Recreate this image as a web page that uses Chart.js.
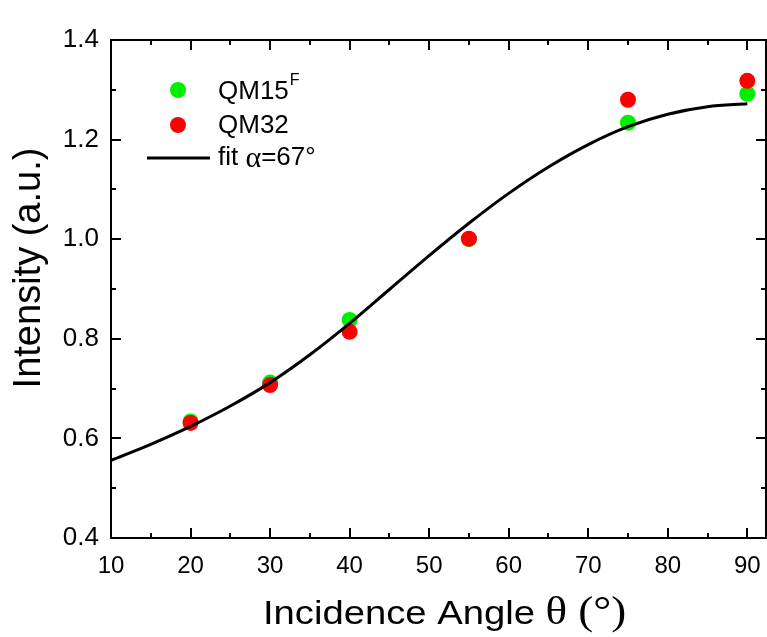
<!DOCTYPE html>
<html>
<head>
<meta charset="utf-8">
<script src="https://cdn.jsdelivr.net/npm/chart.js@4.4.0/dist/chart.umd.min.js"></script>
<style>
  html, body { margin: 0; padding: 0; background: #fff; }
  #wrap { width: 767px; height: 637px; }
</style>
</head>
<body>
<div id="wrap"><canvas id="myChart" width="767" height="637"></canvas></div>
<script>
// measured points (angle in degrees, intensity a.u.)
var angles = [20, 30, 40, 55, 75, 90];
var qm15F = [0.634, 0.712, 0.838, 1.000, 1.234, 1.292];
var qm32 = [0.631, 0.707, 0.814, 1.001, 1.280, 1.318];

// fit curve, every 5 degrees
var fitAngles = [10, 15, 20, 25, 30, 35, 40, 45, 50, 55, 60, 65, 70, 75, 80, 85, 90];
var fitValues = [0.556, 0.588, 0.624, 0.665, 0.712, 0.768, 0.831, 0.899, 0.967, 1.032, 1.092, 1.145, 1.190, 1.226, 1.251, 1.266, 1.272];

var xTicks = [10, 20, 30, 40, 50, 60, 70, 80, 90];
var yTicks = [0.4, 0.6, 0.8, 1.0, 1.2, 1.4];

function pts(xs, ys) {
    return xs.map(function (x, i) { return { x: x, y: ys[i] }; });
}

var FONT = "'Liberation Sans', Arial, sans-serif";
var SERIF = "'Liberation Serif', 'Times New Roman', serif";

// frame + inward ticks on all four sides
var framePlugin = {
    id: 'frame',
    afterDraw: function (chart) {
        var ctx = chart.ctx, a = chart.chartArea;
        var xs = chart.scales.x, ys = chart.scales.y;
        ctx.save();
        ctx.strokeStyle = '#000';
        ctx.lineWidth = 2;
        ctx.strokeRect(a.left, a.top, a.right - a.left, a.bottom - a.top);
        ctx.beginPath();
        for (var v = 10; v <= 90; v += 5) {
            var px = Math.round(xs.getPixelForValue(v));
            var len = (v % 10 === 0) ? 10 : 5;
            ctx.moveTo(px, a.bottom); ctx.lineTo(px, a.bottom - len);
            ctx.moveTo(px, a.top); ctx.lineTo(px, a.top + len);
        }
        for (var k = 4; k <= 14; k++) {
            var py = Math.round(ys.getPixelForValue(k / 10));
            var l2 = (k % 2 === 0) ? 10 : 5;
            ctx.moveTo(a.left, py); ctx.lineTo(a.left + l2, py);
            ctx.moveTo(a.right, py); ctx.lineTo(a.right - l2, py);
        }
        ctx.stroke();
        ctx.restore();
    }
};

// axis titles (mixed sans / serif, like the original)
var titlePlugin = {
    id: 'axisTitles',
    afterDraw: function (chart) {
        var ctx = chart.ctx, a = chart.chartArea;
        ctx.save();
        ctx.fillStyle = '#000';
        ctx.textBaseline = 'alphabetic';

        // x title
        ctx.save();
        ctx.translate(a.left + 152, a.bottom + 86);
        ctx.scale(1.124, 1);
        ctx.font = '34px ' + FONT;
        var part1 = 'Incidence Angle ';
        ctx.fillText(part1, 0, 0);
        var w = ctx.measureText(part1).width;
        ctx.font = '40px ' + SERIF;
        ctx.fillText('\u03b8 (\u00b0)', w, 0);
        ctx.restore();

        // y title
        ctx.save();
        ctx.translate(40, a.top + 228);
        ctx.rotate(-Math.PI / 2);
        ctx.font = '38px ' + FONT;
        ctx.textAlign = 'center';
        ctx.fillText('Intensity (a.u.)', 0, 0);
        ctx.restore();

        ctx.restore();
    }
};

// legend with superscript and line sample
var legendPlugin = {
    id: 'customLegend',
    afterDraw: function (chart) {
        var ctx = chart.ctx, a = chart.chartArea;
        var x0 = a.left + 67, tx = a.left + 107;
        var rows = [a.top + 50, a.top + 85, a.top + 118];
        ctx.save();
        ctx.font = '26px ' + FONT;
        ctx.textBaseline = 'middle';
        ctx.fillStyle = '#000';

        ctx.beginPath();
        ctx.fillStyle = '#00ee00';
        ctx.arc(x0, rows[0], 8, 0, Math.PI * 2);
        ctx.fill();
        ctx.fillStyle = '#000';
        ctx.fillText('QM15', tx, rows[0] + 2);
        var w = ctx.measureText('QM15').width;
        ctx.font = '16px ' + FONT;
        ctx.fillText('F', tx + w + 1, rows[0] - 9);

        ctx.beginPath();
        ctx.fillStyle = '#ff0000';
        ctx.arc(x0, rows[1], 8, 0, Math.PI * 2);
        ctx.fill();
        ctx.fillStyle = '#000';
        ctx.font = '26px ' + FONT;
        ctx.fillText('QM32', tx, rows[1] + 1);

        ctx.beginPath();
        ctx.strokeStyle = '#000';
        ctx.lineWidth = 3;
        ctx.moveTo(a.left + 36, rows[2]);
        ctx.lineTo(a.left + 99, rows[2]);
        ctx.stroke();
        ctx.fillText('fit ', tx, rows[2]);
        var w2 = ctx.measureText('fit ').width;
        ctx.font = '30px ' + SERIF;
        ctx.fillText('\u03b1', tx + w2, rows[2] + 1);
        var w3 = ctx.measureText('\u03b1').width;
        ctx.font = '26px ' + FONT;
        ctx.fillText('=67\u00b0', tx + w2 + w3, rows[2]);
        ctx.restore();
    }
};

var ctx = document.getElementById('myChart').getContext('2d');

var myChart = new Chart(ctx, {
    type: 'scatter',
    data: {
        datasets: [{
            label: 'fit \u03b1=67\u00b0',
            type: 'line',
            data: pts(fitAngles, fitValues),
            borderColor: '#000',
            borderWidth: 3,
            pointRadius: 0,
            fill: false,
            cubicInterpolationMode: 'monotone',
            order: 0
        }, {
            label: 'QM32',
            data: pts(angles, qm32),
            backgroundColor: '#ff0000',
            borderWidth: 0,
            pointRadius: 8,
            order: 1
        }, {
            label: 'QM15F',
            data: pts(angles, qm15F),
            backgroundColor: '#00ee00',
            borderWidth: 0,
            pointRadius: 8,
            order: 2
        }]
    },
    plugins: [framePlugin, titlePlugin, legendPlugin],
    options: {
        responsive: false,
        animation: false,
        layout: { autoPadding: false, padding: { left: 0, right: 1, top: 40, bottom: 0 } },
        plugins: {
            legend: { display: false },
            tooltip: { enabled: false }
        },
        scales: {
            x: {
                type: 'linear',
                min: 10,
                max: 92.35,
                afterBuildTicks: function (s) { s.ticks = xTicks.map(function (v) { return { value: v }; }); },
                afterFit: function (s) { s.height = 99; s.paddingLeft = 0; s.paddingRight = 0; },
                grid: { display: false, drawTicks: false },
                border: { display: false },
                ticks: {
                    color: '#000',
                    font: { family: FONT, size: 24 },
                    padding: 14,
                    maxRotation: 0,
                    autoSkip: false
                }
            },
            y: {
                type: 'linear',
                min: 0.4,
                max: 1.4,
                afterBuildTicks: function (s) { s.ticks = yTicks.map(function (v) { return { value: v }; }); },
                afterFit: function (s) { s.width = 111; s.paddingTop = 0; s.paddingBottom = 0; },
                grid: { display: false, drawTicks: false },
                border: { display: false },
                ticks: {
                    color: '#000',
                    font: { family: FONT, size: 26 },
                    padding: 12,
                    callback: function (v) { return Number(v).toFixed(1); }
                }
            }
        }
    }
});
</script>
</body>
</html>
